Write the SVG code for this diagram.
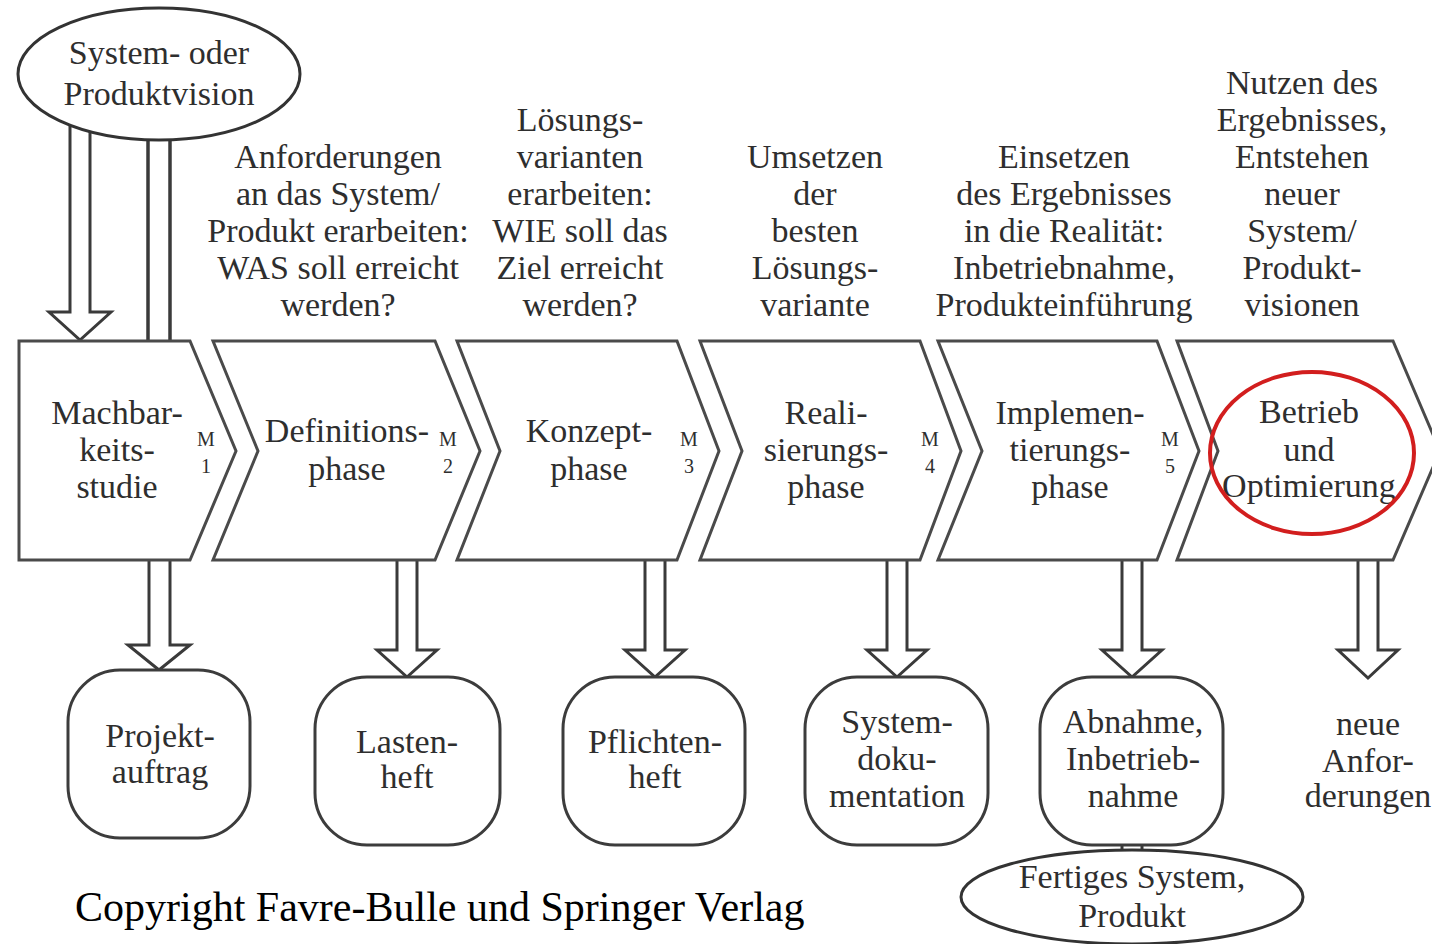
<svg xmlns="http://www.w3.org/2000/svg" width="1432" height="944" viewBox="0 0 1432 944">
  <style>
    .bg { fill: #ffffff; }
    .phase { fill: #ffffff; stroke: #4a4a4a; stroke-width: 3; stroke-linejoin: miter; }
    .doc { fill: #ffffff; stroke: #3c3c3c; stroke-width: 3; }
    .oval { fill: #ffffff; stroke: #333333; stroke-width: 3; }
    .block { fill: #ffffff; stroke: #3a3a3a; stroke-width: 3; stroke-linejoin: miter; }
    .rail { fill: none; stroke: #3a3a3a; stroke-width: 3.5; }
    .mark { fill: none; stroke: #d21e1e; stroke-width: 4; }
    text { font-family: "Liberation Serif", "Times New Roman", serif; fill: #2e2e2e; text-anchor: middle; }
    .lbl { font-size: 34px; }
    .ms { font-size: 20px; }
    .copy { font-size: 42px; fill: #000000; text-anchor: start; }
  </style>

  <rect class="bg" x="0" y="0" width="1432" height="944"/>

  <!-- connectors: hollow block arrows and double rails -->
  <g id="connectors">
    <path class="block" d="M70 118 V312 H49 L80 340 L111 312 H90 V118"/>
    <line class="rail" x1="148" y1="130" x2="148" y2="341"/>
    <line class="rail" x1="170" y1="130" x2="170" y2="341"/>
    <path class="block" d="M149 560 V645 H128 L159 670 L190 645 H170 V560"/>
    <path class="block" d="M397 560 V650 H377 L407 677 L437 650 H417 V560"/>
    <path class="block" d="M645 560 V650 H625 L655 677 L685 650 H665 V560"/>
    <path class="block" d="M887 560 V650 H867 L897 677 L927 650 H907 V560"/>
    <path class="block" d="M1122 560 V650 H1102 L1132 677 L1162 650 H1142 V560"/>
    <path class="block" d="M1358 560 V650 H1338 L1368 678 L1398 650 H1378 V560"/>
    <path class="block" d="M1122 840 V856 H1142 V840"/>
  </g>

  <!-- vision ellipse -->
  <g id="vision">
    <ellipse class="oval" cx="159" cy="74" rx="141" ry="66"/>
    <text class="lbl" x="159" y="64">System- oder</text>
    <text class="lbl" x="159" y="105">Produktvision</text>
  </g>

  <!-- activity descriptions above the phases -->
  <g id="desc-definition">
    <text class="lbl" x="338" y="168">Anforderungen</text>
    <text class="lbl" x="338" y="205">an das System/</text>
    <text class="lbl" x="338" y="242">Produkt erarbeiten:</text>
    <text class="lbl" x="338" y="279">WAS soll erreicht</text>
    <text class="lbl" x="338" y="316">werden?</text>
  </g>
  <g id="desc-concept">
    <text class="lbl" x="580" y="131">Lösungs-</text>
    <text class="lbl" x="580" y="168">varianten</text>
    <text class="lbl" x="580" y="205">erarbeiten:</text>
    <text class="lbl" x="580" y="242">WIE soll das</text>
    <text class="lbl" x="580" y="279">Ziel erreicht</text>
    <text class="lbl" x="580" y="316">werden?</text>
  </g>
  <g id="desc-realisation">
    <text class="lbl" x="815" y="168">Umsetzen</text>
    <text class="lbl" x="815" y="205">der</text>
    <text class="lbl" x="815" y="242">besten</text>
    <text class="lbl" x="815" y="279">Lösungs-</text>
    <text class="lbl" x="815" y="316">variante</text>
  </g>
  <g id="desc-implementation">
    <text class="lbl" x="1064" y="168">Einsetzen</text>
    <text class="lbl" x="1064" y="205">des Ergebnisses</text>
    <text class="lbl" x="1064" y="242">in die Realität:</text>
    <text class="lbl" x="1064" y="279">Inbetriebnahme,</text>
    <text class="lbl" x="1064" y="316">Produkteinführung</text>
  </g>
  <g id="desc-operation">
    <text class="lbl" x="1302" y="94">Nutzen des</text>
    <text class="lbl" x="1302" y="131">Ergebnisses,</text>
    <text class="lbl" x="1302" y="168">Entstehen</text>
    <text class="lbl" x="1302" y="205">neuer</text>
    <text class="lbl" x="1302" y="242">System/</text>
    <text class="lbl" x="1302" y="279">Produkt-</text>
    <text class="lbl" x="1302" y="316">visionen</text>
  </g>

  <!-- phase chevrons with milestones -->
  <g id="phase-feasibility">
    <polygon class="phase" points="19,341 190,341 236,451 190,560 19,560"/>
    <text class="lbl" x="117" y="424">Machbar-</text>
    <text class="lbl" x="117" y="461">keits-</text>
    <text class="lbl" x="117" y="498">studie</text>
    <text class="ms" x="206" y="446">M</text>
    <text class="ms" x="206" y="473">1</text>
  </g>
  <g id="phase-definition">
    <polygon class="phase" points="213,341 435,341 480,451 435,560 213,560 258,451"/>
    <text class="lbl" x="347" y="442">Definitions-</text>
    <text class="lbl" x="347" y="480">phase</text>
    <text class="ms" x="448" y="446">M</text>
    <text class="ms" x="448" y="473">2</text>
  </g>
  <g id="phase-concept">
    <polygon class="phase" points="457,341 677,341 719,451 677,560 457,560 500,451"/>
    <text class="lbl" x="589" y="442">Konzept-</text>
    <text class="lbl" x="589" y="480">phase</text>
    <text class="ms" x="689" y="446">M</text>
    <text class="ms" x="689" y="473">3</text>
  </g>
  <g id="phase-realisation">
    <polygon class="phase" points="700,341 920,341 961,451 920,560 700,560 742,451"/>
    <text class="lbl" x="826" y="424">Reali-</text>
    <text class="lbl" x="826" y="461">sierungs-</text>
    <text class="lbl" x="826" y="498">phase</text>
    <text class="ms" x="930" y="446">M</text>
    <text class="ms" x="930" y="473">4</text>
  </g>
  <g id="phase-implementation">
    <polygon class="phase" points="938,341 1157,341 1199,451 1157,560 938,560 982,451"/>
    <text class="lbl" x="1070" y="424">Implemen-</text>
    <text class="lbl" x="1070" y="461">tierungs-</text>
    <text class="lbl" x="1070" y="498">phase</text>
    <text class="ms" x="1170" y="446">M</text>
    <text class="ms" x="1170" y="473">5</text>
  </g>
  <g id="phase-operation">
    <polygon class="phase" points="1177,341 1393,341 1440,451 1393,560 1177,560 1218,451"/>
    <text class="lbl" x="1309" y="423">Betrieb</text>
    <text class="lbl" x="1309" y="461">und</text>
    <text class="lbl" x="1309" y="497">Optimierung</text>
    <ellipse class="mark" cx="1312" cy="453" rx="102" ry="81"/>
  </g>

  <!-- deliverables -->
  <g id="doc-auftrag">
    <rect class="doc" x="68" y="670" width="182" height="168" rx="52" ry="52"/>
    <text class="lbl" x="160" y="747">Projekt-</text>
    <text class="lbl" x="160" y="783">auftrag</text>
  </g>
  <g id="doc-lastenheft">
    <rect class="doc" x="315" y="677" width="185" height="168" rx="52" ry="52"/>
    <text class="lbl" x="407" y="753">Lasten-</text>
    <text class="lbl" x="407" y="788">heft</text>
  </g>
  <g id="doc-pflichtenheft">
    <rect class="doc" x="563" y="677" width="182" height="168" rx="52" ry="52"/>
    <text class="lbl" x="655" y="753">Pflichten-</text>
    <text class="lbl" x="655" y="788">heft</text>
  </g>
  <g id="doc-dokumentation">
    <rect class="doc" x="805" y="677" width="183" height="168" rx="52" ry="52"/>
    <text class="lbl" x="897" y="733">System-</text>
    <text class="lbl" x="897" y="770">doku-</text>
    <text class="lbl" x="897" y="807">mentation</text>
  </g>
  <g id="doc-abnahme">
    <rect class="doc" x="1040" y="677" width="183" height="168" rx="52" ry="52"/>
    <text class="lbl" x="1133" y="733">Abnahme,</text>
    <text class="lbl" x="1133" y="770">Inbetrieb-</text>
    <text class="lbl" x="1133" y="807">nahme</text>
  </g>
  <g id="new-requirements">
    <text class="lbl" x="1368" y="735">neue</text>
    <text class="lbl" x="1368" y="772">Anfor-</text>
    <text class="lbl" x="1368" y="807">derungen</text>
  </g>

  <!-- finished product -->
  <g id="product">
    <ellipse class="oval" cx="1132" cy="897" rx="171" ry="47"/>
    <text class="lbl" x="1132" y="888">Fertiges System,</text>
    <text class="lbl" x="1132" y="927">Produkt</text>
  </g>

  <text class="copy" x="75" y="921">Copyright Favre-Bulle und Springer Verlag</text>
</svg>
